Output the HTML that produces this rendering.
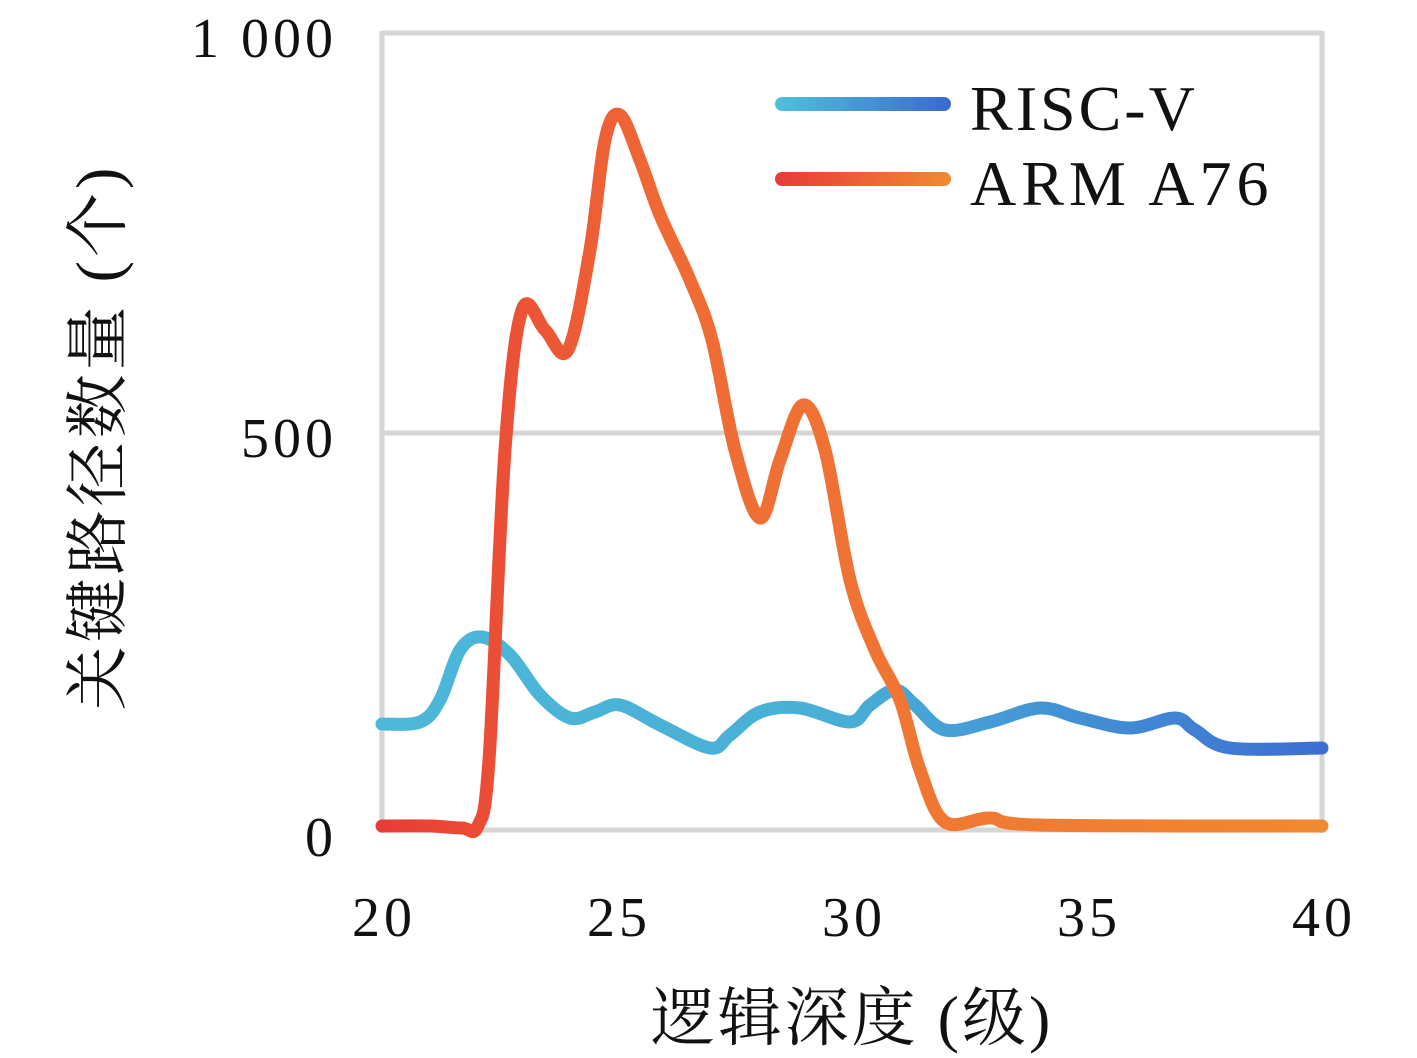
<!DOCTYPE html>
<html><head><meta charset="utf-8"><style>
html,body{margin:0;padding:0;background:#fff;}
svg{display:block;}
text{font-family:"Liberation Serif","Noto Serif CJK SC",serif;fill:#111;}
</style></head><body>
<svg id="s" width="1417" height="1058" viewBox="0 0 1417 1058" xmlns="http://www.w3.org/2000/svg">
<defs>
<linearGradient id="gb" x1="382" y1="0" x2="1322" y2="0" gradientUnits="userSpaceOnUse">
<stop offset="0" stop-color="#4db8d8"/><stop offset="0.5" stop-color="#48aed6"/><stop offset="1" stop-color="#3d6fd2"/></linearGradient>
<linearGradient id="gr" x1="382" y1="0" x2="1322" y2="0" gradientUnits="userSpaceOnUse">
<stop offset="0" stop-color="#e83c36"/><stop offset="0.3" stop-color="#ef6a35"/><stop offset="1" stop-color="#f08a30"/></linearGradient>
<linearGradient id="lb" x1="778" y1="0" x2="948" y2="0" gradientUnits="userSpaceOnUse"><stop offset="0" stop-color="#4fc0d8"/><stop offset="1" stop-color="#3b6bd0"/></linearGradient>
<linearGradient id="lr" x1="778" y1="0" x2="948" y2="0" gradientUnits="userSpaceOnUse"><stop offset="0" stop-color="#e83a3a"/><stop offset="1" stop-color="#f08a30"/></linearGradient>
</defs>
<g stroke="#d6d6d6" stroke-width="5" fill="none">
<line x1="382" y1="33" x2="1322" y2="33"/>
<line x1="382" y1="433" x2="1322" y2="433"/>
<line x1="382" y1="830" x2="1322" y2="830"/>
<line x1="382" y1="31" x2="382" y2="833"/>
<line x1="1322" y1="31" x2="1322" y2="833"/>
</g>
<path id="pb" fill="none" stroke="url(#gb)" stroke-width="13" stroke-linecap="round" stroke-linejoin="round"/>
<path id="pr" fill="none" stroke="url(#gr)" stroke-width="13" stroke-linecap="round" stroke-linejoin="round"/>
<line x1="782" y1="104" x2="944" y2="104" stroke="url(#lb)" stroke-width="14" stroke-linecap="round"/>
<line x1="782" y1="179" x2="944" y2="179" stroke="url(#lr)" stroke-width="14" stroke-linecap="round"/>
<text x="970" y="130" font-size="64" letter-spacing="3">RISC-V</text>
<text x="970" y="205" font-size="64" letter-spacing="5">ARM A76</text>
<g font-size="56" text-anchor="end" letter-spacing="4">
<text x="337" y="57">1 000</text>
<text x="337" y="457">500</text>
<text x="337" y="856">0</text>
</g>
<g font-size="56" text-anchor="middle" letter-spacing="4">
<text x="384" y="936">20</text>
<text x="619" y="936">25</text>
<text x="854" y="936">30</text>
<text x="1089" y="936">35</text>
<text x="1324" y="936">40</text>
</g>
<text x="852" y="1040" font-size="64" text-anchor="middle" letter-spacing="3">逻辑深度 (级)</text>
<text transform="translate(120,437) rotate(-90)" font-size="64" text-anchor="middle" letter-spacing="4">关键路径数量 (个)</text>
</svg>
<script>
function cr(p){var d="M"+p[0][0]+","+p[0][1];for(var i=0;i<p.length-1;i++){var a=p[i-1]||p[i],b=p[i],c=p[i+1],e=p[i+2]||c;
d+=" C"+(b[0]+(c[0]-a[0])/6)+","+(b[1]+(c[1]-a[1])/6)+" "+(c[0]-(e[0]-b[0])/6)+","+(c[1]-(e[1]-b[1])/6)+" "+c[0]+","+c[1];}return d;}
var r=[[382,826],[430,826],[462,828],[478,826],[489,760],[505,450],[522,310],[545,330],[568,350],[590,250],[605,140],[620,115],[640,160],[660,215],[690,280],[712,340],[735,450],[760,518],[780,460],[803,405],[825,450],[850,580],[875,650],[900,700],[920,770],[945,822],[990,818],[1040,825],[1322,826]];
var b=[[382,724],[420,722],[440,700],[460,650],[482,637],[510,655],[540,695],[570,718],[595,712],[620,705],[660,725],[710,748],[730,735],[760,712],[800,708],[850,722],[870,705],[895,690],[915,705],[945,730],[990,722],[1040,708],[1080,718],[1130,728],[1175,718],[1195,730],[1230,748],[1322,748]];
document.getElementById("pb").setAttribute("d",cr(b));
document.getElementById("pr").setAttribute("d",cr(r));
</script>
</body></html>
